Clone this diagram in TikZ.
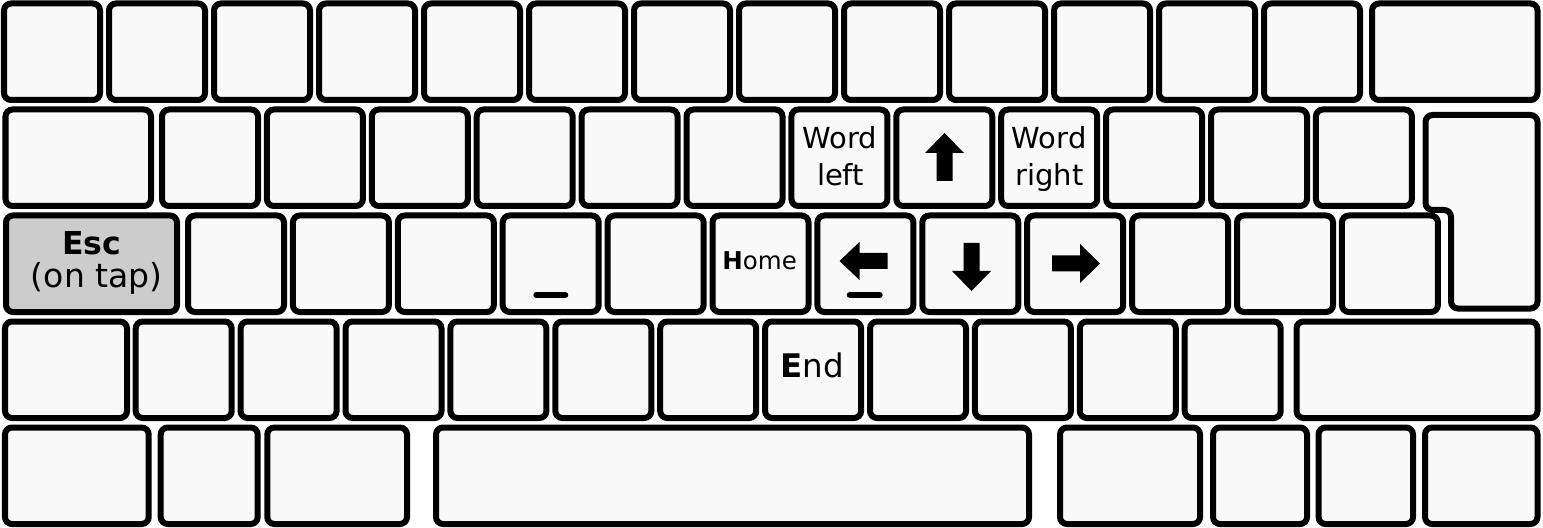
\documentclass[tikz,border=0pt]{standalone}
\usepackage{fontspec}
\setmainfont{DejaVu Sans}
\definecolor{keyfill}{HTML}{F9F9F9}
\definecolor{escfill}{HTML}{CCCCCC}
\tikzset{
  keybox/.style={draw=black, line width=6bp, fill=keyfill, rounded corners=7bp},
  esckey/.style={keybox, fill=escfill},
  keylabel/.style={anchor=base, inner sep=0pt, text=black},
  glyph/.style={fill=black},
  ubar/.style={draw=black, line width=6bp, line cap=round}
}
\begin{document}
\begin{tikzpicture}[x=1bp,y=-1bp]
\useasboundingbox (0,0) rectangle (1543,528);
% Row 1
\foreach \i in {0,...,12} {\draw[keybox] ({4+105*\i},3.5) rectangle ({100+105*\i},100);}
\draw[keybox] (1372,3.5) rectangle (1537.5,100);
% Row 2
\draw[keybox] (5.5,109.5) rectangle (151,206);
\foreach \i in {0,...,11} {\draw[keybox] ({162+104.9*\i},109.5) rectangle ({258+104.9*\i},206);}
% Enter
\draw[keybox] (1425.5,115) -- (1537.5,115) -- (1537.5,308.5) -- (1451,308.5) -- (1451,210) -- (1425.5,210) -- cycle;
% Row 3
\draw[esckey] (6,215.5) rectangle (177,312);
\foreach \i in {0,...,11} {\draw[keybox] ({188+104.9*\i},215.5) rectangle ({284+104.9*\i},312);}
% Row 4
\draw[keybox] (5,321.5) rectangle (127,418);
\foreach \i in {0,...,10} {\draw[keybox] ({135.7+104.9*\i},321.5) rectangle ({231.7+104.9*\i},418);}
\draw[keybox] (1296.5,321.5) rectangle (1537.5,418);
% Row 5
\draw[keybox] (5,427.5) rectangle (148.7,524);
\draw[keybox] (160.7,427.5) rectangle (257.7,524);
\draw[keybox] (267.3,427.5) rectangle (407,524);
\draw[keybox] (436,427.5) rectangle (1029,524);
\draw[keybox] (1060,427.5) rectangle (1200,524);
\draw[keybox] (1213,427.5) rectangle (1307,524);
\draw[keybox] (1318.5,427.5) rectangle (1413,524);
\draw[keybox] (1425,427.5) rectangle (1537.5,524);
% Labels
\node[keylabel, font=\fontsize{29bp}{36bp}\selectfont] (wordleft1) at (839.6,149) {Word};
\node[keylabel, font=\fontsize{29bp}{36bp}\selectfont] (wordleft2) at (840.5,185.7) {left};
\node[keylabel, font=\fontsize{29bp}{36bp}\selectfont] (wordright1) at (1049.2,149) {Word};
\node[keylabel, font=\fontsize{29bp}{36bp}\selectfont] (wordright2) at (1049.6,185.7) {right};
\node[keylabel, font=\fontsize{31.5bp}{36bp}\selectfont\bfseries] (esc) at (91.7,255) {Esc};
\node[keylabel, font=\fontsize{33bp}{36bp}\selectfont] (esctap) at (96.7,287.5) {(on tap)};
\node[keylabel, font=\fontsize{24.5bp}{29bp}\selectfont] (home) at (759.7,270) {{\bfseries H}ome};
\node[keylabel, font=\fontsize{32.5bp}{38bp}\selectfont] (end) at (812.5,377.7) {{\bfseries E}nd};
% Arrows
\fill[glyph] (944.5,133) -- (964,153) -- (952.5,153) -- (952.5,181) -- (936.5,181) -- (936.5,153) -- (925,153) -- cycle;
\fill[glyph] (839.5,261) -- (859.5,242) -- (859.5,253) -- (887.5,253) -- (887.5,269) -- (859.5,269) -- (859.5,280) -- cycle;
\fill[glyph] (971.5,291) -- (952,271) -- (963.5,271) -- (963.5,243) -- (979.5,243) -- (979.5,271) -- (991,271) -- cycle;
\fill[glyph] (1100,263.5) -- (1080,244) -- (1080,255.5) -- (1052,255.5) -- (1052,271.5) -- (1080,271.5) -- (1080,283) -- cycle;
% Underscores
\draw[ubar] (536.3,295) -- (565.3,295);
\draw[ubar] (849.7,295) -- (879.7,295);
\end{tikzpicture}
\end{document}
